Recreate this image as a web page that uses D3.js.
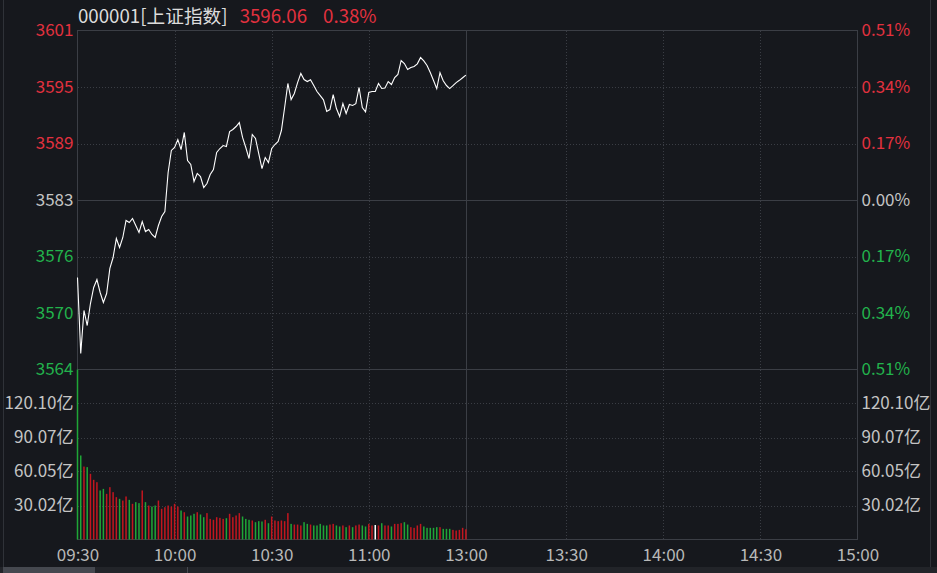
<!DOCTYPE html>
<html>
<head>
<meta charset="utf-8">
<script src="https://cdn.jsdelivr.net/npm/d3@7/dist/d3.min.js"></script>
<style>
  html, body { margin: 0; padding: 0; background: #16181d; }
  svg { display: block; }
  text { font-family: "Noto Sans CJK SC", "Noto Sans", sans-serif; }
</style>
</head>
<body>
<svg id="chart" width="937" height="573"></svg>
<script>
// ---------------- DATA ----------------
const code = "000001";
const indexName = "[上证指数]";
const lastPrice = "3596.06";
const lastPct = "0.38%";
const prevClose = 3582.6;
const pctRange = 0.0051;

// minute closes 09:30 .. 11:30 (121 points)
const prices = [
  3574.25, 3566.05, 3570.69, 3569.07, 3571.44, 3573.17, 3574.03, 3572.63, 3571.55, 3572.52,
  3575.22, 3576.40, 3578.45, 3577.48, 3578.56, 3580.39, 3580.17, 3580.61, 3579.85, 3579.10,
  3580.28, 3579.20, 3579.42, 3578.88, 3578.56, 3579.85, 3580.82, 3581.36, 3585.56, 3587.94,
  3588.26, 3589.12, 3588.04, 3589.88, 3586.86, 3586.43, 3584.59, 3585.46, 3585.13, 3583.95,
  3584.38, 3585.35, 3585.89, 3587.72, 3588.15, 3588.47, 3588.37, 3589.98, 3590.20, 3590.52,
  3590.95, 3589.34, 3588.26, 3587.07, 3589.66, 3589.23, 3587.61, 3585.99, 3587.18, 3586.64,
  3588.15, 3588.58, 3588.91, 3590.09, 3592.57, 3595.16, 3593.43, 3594.08, 3595.26, 3596.24,
  3595.59, 3595.37, 3595.56, 3594.94, 3594.29, 3593.86, 3593.40, 3592.14, 3592.35, 3593.97,
  3592.46, 3591.60, 3593.00, 3591.92, 3592.89, 3592.79, 3592.98, 3594.73, 3592.57, 3592.10,
  3594.19, 3594.29, 3594.29, 3595.16, 3594.62, 3594.67, 3595.37, 3595.05, 3595.80, 3596.13,
  3597.64, 3597.31, 3596.67, 3596.88, 3596.99, 3597.28, 3597.96, 3597.60, 3597.10, 3596.34,
  3595.48, 3594.60, 3596.32, 3595.45, 3594.94, 3594.61, 3594.92, 3595.26, 3595.50, 3595.78,
  3596.06
];

// minute turnover, 亿
const volumes = [
  150.12, 74.2, 64.4, 63.9, 58.0, 52.7, 50.6, 43.3, 44.7, 40.3,
  46.2, 41.8, 37.4, 35.9, 34.4, 38.0, 35.0, 31.5, 33.0, 32.1,
  43.3, 33.0, 30.0, 29.1, 30.0, 34.4, 27.1, 28.5, 30.0, 29.1,
  31.5, 29.1, 25.6, 24.1, 20.3, 21.2, 22.7, 24.1, 22.1, 19.7,
  23.3, 18.2, 17.4, 19.7, 19.1, 18.2, 18.8, 22.7, 19.7, 21.2,
  23.3, 20.3, 18.2, 17.4, 16.8, 15.3, 16.2, 15.9, 17.4, 14.4,
  20.3, 16.8, 16.2, 16.8, 16.2, 23.3, 13.8, 13.2, 13.2, 12.4,
  15.3, 13.8, 13.2, 12.4, 12.4, 13.8, 12.4, 12.4, 13.2, 13.8,
  12.4, 11.5, 12.4, 10.9, 12.4, 10.9, 12.4, 13.2, 12.4, 11.5,
  13.8, 12.4, 12.8, 12.4, 14.4, 12.4, 12.4, 11.5, 13.8, 13.8,
  14.4, 15.3, 13.2, 10.9, 10.3, 12.4, 13.8, 11.5, 10.3, 10.3,
  10.3, 10.9, 10.9, 9.4, 9.4, 9.4, 8.5, 7.9, 8.5, 10.3,
  9.0
];

const priceLabels = ["3601", "3595", "3589", "3583", "3576", "3570", "3564"];
const pctLevels   = [0.0051, 0.0034, 0.0017, 0, -0.0017, -0.0034, -0.0051];
const pctLabels   = ["0.51%", "0.34%", "0.17%", "0.00%", "0.17%", "0.34%", "0.51%"];
const volTicks    = [120.10, 90.07, 60.05, 30.02];
const volLabels   = ["120.10亿", "90.07亿", "60.05亿", "30.02亿"];
const timeLabels  = ["09:30", "10:00", "10:30", "11:00", "13:00", "13:30", "14:00", "14:30", "15:00"];
const timeSlots   = [0, 30, 60, 90, 120, 151, 181, 211, 241];
const totalSlots  = 241;

// ---------------- STYLE ----------------
const C = {
  bg: "#16181d",
  frame: "#3b3e45",
  dot: "#3a3d44",
  red: "#e2313f",
  green: "#22b24c",
  gray: "#c4c4c4",
  barRed: "#c3161f",
  barGreen: "#1fa637",
  barFlat: "#ffffff",
  line: "#ffffff"
};
const L = 77.5, R = 857.5, T = 30.5, MID = 369.5, B = 539.5;

const svg = d3.select("#chart");
svg.append("rect").attr("width", 937).attr("height", 573).attr("fill", C.bg);

const x = d3.scaleLinear().domain([0, totalSlots]).range([L, R]);
const yP = d3.scaleLinear()
  .domain([prevClose * (1 - pctRange), prevClose * (1 + pctRange)])
  .range([MID, T]);
const yV = d3.scaleLinear().domain([0, d3.max(volumes)]).range([B, MID]);

// outer frame / bottom strip
const outer = svg.append("g");
outer.append("line").attr("x1", 3.5).attr("x2", 3.5).attr("y1", 0).attr("y2", 567).attr("stroke", "#2f3238");
outer.append("line").attr("x1", 930.5).attr("x2", 930.5).attr("y1", 0).attr("y2", 567).attr("stroke", "#2f3238");
outer.append("rect").attr("x", 0).attr("y", 567).attr("width", 937).attr("height", 6).attr("fill", "#222429");
outer.append("rect").attr("x", 3).attr("y", 567).attr("width", 92).attr("height", 6).attr("fill", "#45484f");
outer.append("line").attr("x1", 187.5).attr("x2", 187.5).attr("y1", 567).attr("y2", 573).attr("stroke", "#45484f");

// grid
const grid = svg.append("g").attr("shape-rendering", "crispEdges");
grid.selectAll(".hp").data(pctLevels.filter(p => Math.abs(p) !== pctRange && p !== 0)).enter()
  .append("line")
  .attr("x1", L).attr("x2", R)
  .attr("y1", d => Math.round(yP(prevClose * (1 + d))) + 0.5)
  .attr("y2", d => Math.round(yP(prevClose * (1 + d))) + 0.5)
  .attr("stroke", C.dot).attr("stroke-dasharray", "1,2");
grid.selectAll(".hv").data(volTicks).enter().append("line")
  .attr("x1", L).attr("x2", R)
  .attr("y1", d => Math.round(yV(d)) + 0.5).attr("y2", d => Math.round(yV(d)) + 0.5)
  .attr("stroke", C.dot).attr("stroke-dasharray", "1,2");
grid.selectAll(".vt").data(timeSlots.filter(s => s !== 0 && s !== 120 && s !== totalSlots)).enter()
  .append("line")
  .attr("x1", d => Math.round(x(d)) + 0.5).attr("x2", d => Math.round(x(d)) + 0.5)
  .attr("y1", T).attr("y2", B)
  .attr("stroke", C.dot).attr("stroke-dasharray", "1,2");
grid.append("line").attr("x1", L).attr("x2", R)
  .attr("y1", Math.round(yP(prevClose)) + 0.5).attr("y2", Math.round(yP(prevClose)) + 0.5)
  .attr("stroke", C.frame);
grid.append("line").attr("x1", L).attr("x2", R).attr("y1", MID).attr("y2", MID).attr("stroke", C.frame);
grid.append("line").attr("x1", Math.round(x(120)) + 0.5).attr("x2", Math.round(x(120)) + 0.5)
  .attr("y1", T).attr("y2", B).attr("stroke", C.frame);
grid.append("rect").attr("x", L).attr("y", T).attr("width", R - L).attr("height", B - T)
  .attr("fill", "none").attr("stroke", C.frame);

// volume bars, coloured by minute direction
const dir = prices.map((p, i) => {
  const prev = i === 0 ? prevClose : prices[i - 1];
  return p > prev ? 1 : (p < prev ? -1 : 0);
});
svg.append("g").selectAll("rect").data(volumes).enter().append("rect")
  .attr("x", (d, i) => x(i) - 0.75)
  .attr("width", 1.5)
  .attr("y", d => yV(d))
  .attr("height", d => yV(0) - yV(d))
  .attr("fill", (d, i) => dir[i] > 0 ? C.barRed : (dir[i] < 0 ? C.barGreen : C.barFlat));

// price line
const line = d3.line().x((d, i) => x(i)).y(d => yP(d));
svg.append("path").datum(prices)
  .attr("d", line).attr("fill", "none").attr("stroke", C.line).attr("stroke-width", 1.1);

// axes
const fs = "17px";
function styleAxis(g) {
  g.select(".domain").remove();
  g.selectAll("line").remove();
  g.selectAll("text").attr("font-size", fs).attr("font-family", '"Noto Sans CJK SC", "Noto Sans", sans-serif');
}
const pctColor = d => d > 0 ? C.red : (d < 0 ? C.green : C.gray);

const leftP = svg.append("g").attr("transform", `translate(${L},0)`)
  .call(d3.axisLeft(yP).tickValues(pctLevels.map(p => prevClose * (1 + p)))
    .tickFormat((d, i) => priceLabels[i]).tickSize(0).tickPadding(4));
styleAxis(leftP);
leftP.selectAll("text").attr("fill", (d, i) => pctColor(pctLevels[i]));

const rightP = svg.append("g").attr("transform", `translate(${R},0)`)
  .call(d3.axisRight(yP).tickValues(pctLevels.map(p => prevClose * (1 + p)))
    .tickFormat((d, i) => pctLabels[i]).tickSize(0).tickPadding(4));
styleAxis(rightP);
rightP.selectAll("text").attr("fill", (d, i) => pctColor(pctLevels[i]));

const leftV = svg.append("g").attr("transform", `translate(${L},0)`)
  .call(d3.axisLeft(yV).tickValues(volTicks).tickFormat((d, i) => volLabels[i]).tickSize(0).tickPadding(4));
styleAxis(leftV);
leftV.selectAll("text").attr("fill", C.gray);

const rightV = svg.append("g").attr("transform", `translate(${R},0)`)
  .call(d3.axisRight(yV).tickValues(volTicks).tickFormat((d, i) => volLabels[i]).tickSize(0).tickPadding(4));
styleAxis(rightV);
rightV.selectAll("text").attr("fill", C.gray);

const bottom = svg.append("g").attr("transform", `translate(0,${B})`)
  .call(d3.axisBottom(x).tickValues(timeSlots).tickFormat((d, i) => timeLabels[i]).tickSize(0).tickPadding(9));
styleAxis(bottom);
bottom.selectAll("text").attr("fill", "#b8b8b8");

// title
const title = svg.append("text").attr("x", 78).attr("y", 22.5).attr("font-size", "18.7px");
title.append("tspan").attr("fill", "#dcdcdc").text(code + indexName);
title.append("tspan").attr("fill", C.red).attr("dx", 12).text(lastPrice);
title.append("tspan").attr("fill", C.red).attr("dx", 16).text(lastPct);
</script>
</body>
</html>
